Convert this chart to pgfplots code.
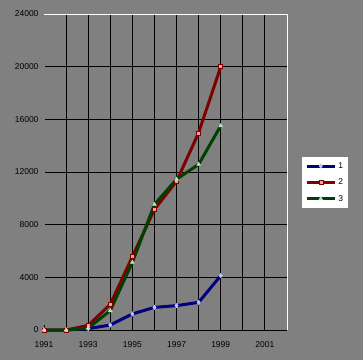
\documentclass[border=0pt]{standalone}
\usepackage{pgfplots}
\pgfplotsset{compat=1.18}
\usepackage{fontspec}
\setmainfont{Liberation Sans}
\definecolor{bg}{HTML}{808080}
\definecolor{sA}{HTML}{000080}
\definecolor{sB}{HTML}{800000}
\definecolor{sC}{HTML}{004000}
\definecolor{mA}{HTML}{B8C8F0}
\definecolor{mB}{HTML}{F0A0A0}
\definecolor{mC}{HTML}{C0E0C0}
\begin{document}
\begin{tikzpicture}[x=1pt,y=1pt]
\fill[bg] (-44,-30) rectangle (319,330);
\begin{axis}[
  at={(0,0)}, anchor=south west,
  scale only axis, width=243pt, height=316pt,
  xmin=1991, xmax=2002, ymin=0, ymax=24000,
  axis line style={draw=none},
  xtick={1991,...,2001},
  xticklabels={1991,,1993,,1995,,1997,,1999,,2001},
  ytick={0,4000,...,24000},
  major tick length=0pt,
  grid=major, major grid style={black, line width=0.8pt},
  tick label style={font=\fontsize{8.5}{10}\selectfont},
  /pgf/number format/assume math mode=true,
  /pgf/number format/set thousands separator={},
  scaled ticks=false,
  xticklabel style={yshift=-8pt},
  yticklabel style={xshift=-2pt},
  clip=false,
  legend style={at={(1.062,0.547)}, anchor=north west, fill=white, draw=none,
    font=\fontsize{8.5}{10}\selectfont, row sep=5pt, inner sep=3pt},
  legend cell align=left,
  legend image code/.code={\draw[mark repeat=2,mark phase=2,#1] plot coordinates {(0pt,0pt)(14pt,0pt)(28pt,0pt)};},
  legend image post style={line width=3pt},
  every axis plot/.append style={line width=3pt},
]
\addplot[sA, mark=diamond*, mark size=2.2pt, mark options={fill=mA, draw=mA, line width=0.5pt}] coordinates {
(1991,0) (1992,0) (1993,100) (1994,380) (1995,1220) (1996,1720) (1997,1850) (1998,2100) (1999,4130)};
\addlegendentry{1}
\addplot[sB, mark=square*, mark size=2pt, mark options={fill=mB, draw=sB, line width=0.5pt}] coordinates {
(1991,0) (1992,0) (1993,350) (1994,1950) (1995,5570) (1996,9160) (1997,11300) (1998,14980) (1999,20000)};
\addlegendentry{2}
\addplot[sC, mark=triangle*, mark size=2.2pt, mark options={fill=mC, draw=mC, line width=0.5pt}] coordinates {
(1991,0) (1992,0) (1993,150) (1994,1470) (1995,5140) (1996,9540) (1997,11450) (1998,12580) (1999,15510)};
\addlegendentry{3}
\end{axis}
\draw[bg, line width=2pt] (0,5) -- (0,315.5);
\draw[white, line width=1pt] (0,316) -- (243,316) -- (243,0);
\end{tikzpicture}
\end{document}
